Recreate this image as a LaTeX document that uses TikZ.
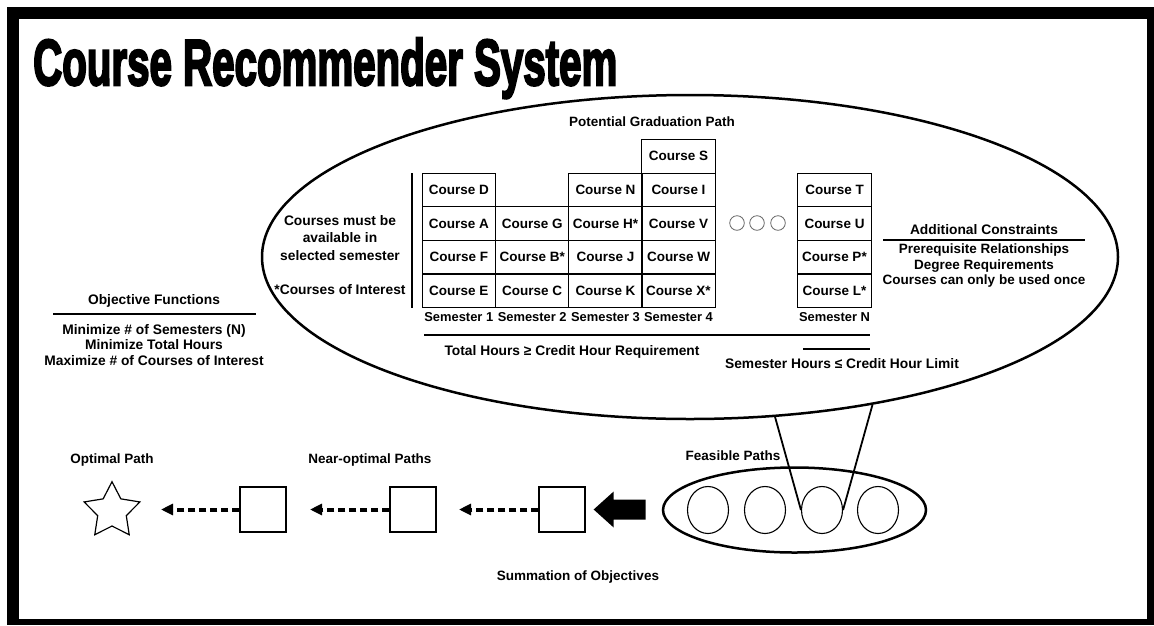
\documentclass[tikz,border=0pt]{standalone}
\usepackage{fontspec}
\setmainfont{Liberation Sans}
\newfontfamily\titlefont{Liberation Sans}[BoldFeatures={FakeBold=4}]
\usetikzlibrary{shapes.geometric,arrows.meta,calc}
\begin{document}
\begin{tikzpicture}[x=1pt,y=-1pt,every node/.style={inner sep=0pt},
  lbl/.style={font=\fontsize{13.8}{16}\selectfont\bfseries,align=center},
  lbls/.style={font=\fontsize{13.5}{16}\selectfont\bfseries,align=center},
  cell/.style={draw,line width=1.2pt,minimum width=73.3pt,minimum height=33.6pt,lbls},
  sem/.style={font=\fontsize{12.9}{15}\selectfont\bfseries,anchor=center},
  rulel/.style={line width=2.2pt},
  dasharrow/.style={line width=4pt,dash pattern=on 7.5pt off 3.5pt,-{Triangle[length=12pt,width=11pt]}},
  pathbox/.style={draw,line width=1.3pt,minimum width=46pt,minimum height=45pt},
  smallc/.style={draw,ellipse,line width=1.1pt,minimum width=41pt,minimum height=47pt},
  dot/.style={draw=black!60,line width=0.8pt,circle,minimum size=14.6pt}]
\useasboundingbox (0,0) rectangle (1154,625);
% frame
\fill[white] (0,0) rectangle (1154,625);
\fill[black] (7,7) rectangle (1154,625);
\fill[white] (19,19) rectangle (1147,619);

% title
\node[anchor=base west] (title) at (33,85)
  {\resizebox{584pt}{47pt}{\titlefont\bfseries Course Recommender System}};

% graduation path bubble
\node[draw,ellipse,line width=2.5pt,minimum width=856pt,minimum height=324pt] (pgp) at (690,257) {};
\node[lbls] (pgpt) at (652,122) {Potential Graduation Path};

% semester columns
\node[cell] (d) at (458.8,189.9) {Course D};
\node[cell] (a) at (458.8,223.5) {Course A};
\node[cell] (f) at (458.8,257.1) {Course F};
\node[cell] (e) at (458.8,290.7) {Course E};
\node[cell] (g) at (532.2,223.5) {Course G};
\node[cell] (b) at (532.2,257.1) {Course B*};
\node[cell] (c) at (532.2,290.7) {Course C};
\node[cell] (n) at (605.5,189.9) {Course N};
\node[cell] (h) at (605.5,223.5) {Course H*};
\node[cell] (j) at (605.5,257.1) {Course J};
\node[cell] (k) at (605.5,290.7) {Course K};
\node[cell] (s) at (678.5,156.3) {Course S};
\node[cell] (i) at (678.5,189.9) {Course I};
\node[cell] (v) at (678.5,223.5) {Course V};
\node[cell] (w) at (678.5,257.1) {Course W};
\node[cell] (x) at (678.5,290.7) {Course X*};
\node[cell] (t) at (834.5,189.9) {Course T};
\node[cell] (u) at (834.5,223.5) {Course U};
\node[cell] (p) at (834.5,257.1) {Course P*};
\node[cell] (l) at (834.5,290.7) {Course L*};

\node[sem] (s1) at (458.8,317) {Semester 1};
\node[sem] (s2) at (532.2,317) {Semester 2};
\node[sem] (s3) at (605.5,317) {Semester 3};
\node[sem] (s4) at (678.5,317) {Semester 4};
\node[sem] (sn) at (834.5,317) {Semester N};

% ellipsis between semester 4 and semester N
\node[dot] (o1) at (737,223) {};
\node[dot] (o2) at (757,223) {};
\node[dot] (o3) at (778,223) {};

% availability note
\coordinate (vt) at (412,173);
\coordinate (vb) at (412,308);
\draw[line width=2.2pt] (vt) -- (vb);
\node[lbl] (avail) at (340,238) {Courses must be\\[1.5pt]available in\\[1.5pt]selected semester};
\node[lbl] (interest) at (340,290) {*Courses of Interest};

% hour constraints
\coordinate (tl) at (424,335);
\coordinate (tr) at (870,335);
\draw[rulel] (tl) -- (tr);
\node[lbl] (total) at (572,352) {Total Hours ≥ Credit Hour Requirement};
\coordinate (hl) at (803,349);
\coordinate (hr) at (870,349);
\draw[rulel] (hl) -- (hr);
\node[lbl] (semh) at (842,364) {Semester Hours ≤ Credit Hour Limit};

% additional constraints
\node[lbl] (addt) at (984,230) {Additional Constraints};
\coordinate (al) at (883,240);
\coordinate (ar) at (1085,240);
\draw[rulel] (al) -- (ar);
\node[lbls,anchor=north] (addl) at (984,244) {Prerequisite Relationships\\[-0.5pt]Degree Requirements\\[-0.5pt]Courses can only be used once};

% objective functions
\node[lbl] (objt) at (154,301) {Objective Functions};
\coordinate (ol) at (53,314);
\coordinate (or) at (256,314);
\draw[rulel] (ol) -- (or);
\node[lbl,anchor=north] (objl) at (154,324) {Minimize \# of Semesters (N)\\[-0.5pt]Minimize Total Hours\\[-0.5pt]Maximize \# of Courses of Interest};

% feasible paths
\node[draw,ellipse,line width=2.5pt,minimum width=263pt,minimum height=85pt] (fe) at (794.5,510) {};
\node[smallc] (fp1) at (708,510) {};
\node[smallc] (fp2) at (765,510) {};
\node[smallc] (fp3) at (822,510) {};
\node[smallc] (fp4) at (878,510) {};
\node[lbls] (fpt) at (733,456) {Feasible Paths};
\draw[line width=1.8pt] (pgp.-62.6) -- (fp3.west);
\draw[line width=1.8pt] (pgp.-39.7) -- (fp3.east);

% ranking of paths
\node[pathbox] (b3) at (562,509.5) {};
\node[pathbox] (b2) at (413,509.5) {};
\node[pathbox] (b1) at (263,509.5) {};
\node[draw,star,star points=5,star point ratio=1.95,minimum size=58.6pt,line width=1.2pt] (opt) at (112,511) {};
\coordinate (t3) at (459,509.5);
\coordinate (t2) at (310,509.5);
\coordinate (t1) at (161,509.5);
\draw[dasharrow] (b3.west) -- (t3);
\draw[dasharrow] (b2.west) -- (t2);
\draw[dasharrow] (b1.west) -- (t1);
\fill ($(b3.east)+(8,0)$) -- ++(20,-18) -- ++(0,8) -- ++(32,0) -- ++(0,20) -- ++(-32,0) -- ++(0,8) -- cycle;

\node[lbls] (optt) at (112,460) {Optimal Path};
\node[lbls] (neart) at (370,460) {Near-optimal Paths};
\node[lbls] (sumt) at (578,577) {Summation of Objectives};
\end{tikzpicture}
\end{document}
